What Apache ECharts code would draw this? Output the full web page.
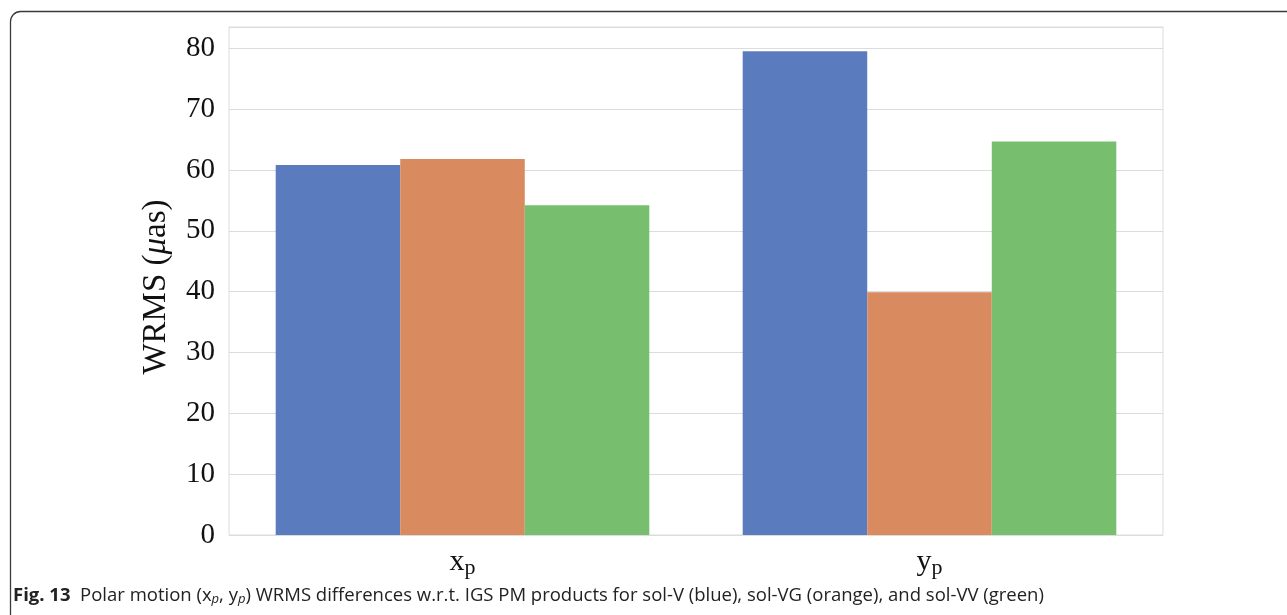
<!DOCTYPE html>
<html><head><meta charset="utf-8">
<script src="https://cdn.jsdelivr.net/npm/echarts@6/dist/echarts.min.js"></script>
<style>html,body{margin:0;padding:0;background:#fff}#c{width:1287px;height:615px}</style>
</head><body><div id="c"></div>
<script>
const categories = ['x', 'y'];
const seriesNames = ['sol-V', 'sol-VG', 'sol-VV'];
const solV = [60.8, 79.5];
const solVG = [61.8, 39.9];
const solVV = [54.2, 64.7];
const yTicks = [0, 10, 20, 30, 40, 50, 60, 70, 80];
const colors = ['#5b7bbf', '#d98a5f', '#77bf6f'];

const chart = echarts.init(document.getElementById('c'));
const serif = '"Liberation Serif", "DejaVu Serif", serif';
const sans = '"Open Sans", "Noto Sans", sans-serif';
const mkSeries = (name, data, i) => ({
  name, type: 'bar', data, barGap: '0%', barCategoryGap: '20%',
  itemStyle: { color: colors[i] }, silent: true
});
chart.setOption({
  animation: false,
  grid: { left: 229, right: 124, top: 27, bottom: 80, show: true, borderColor: '#dcdcdc', borderWidth: 1 },
  xAxis: {
    type: 'category', data: categories,
    axisLine: { show: false }, axisTick: { show: false }, splitLine: { show: false },
    axisLabel: {
      margin: 10,
      formatter: v => '{m|' + v + '}{s|p}',
      rich: {
        m: { fontFamily: serif, fontSize: 30, color: '#111' },
        s: { fontFamily: serif, fontSize: 22, color: '#111', verticalAlign: 'bottom', padding: [12, 0, 0, 0] }
      }
    }
  },
  yAxis: {
    type: 'value', min: 0, max: 83.5, interval: 10,
    axisLine: { show: false }, axisTick: { show: false },
    splitLine: { lineStyle: { color: '#dcdcdc', width: 1 } },
    axisLabel: {
      margin: 14, fontFamily: serif, fontSize: 29, color: '#111',
      formatter: v => yTicks.includes(v) ? String(v) : ''
    },
    name: '{a|WRMS (}{b|μ}{a|as)}', nameLocation: 'middle', nameGap: 56, nameRotate: 90,
    nameTextStyle: {
      padding: [0, 12, 0, 0],
      rich: {
        a: { fontFamily: serif, fontSize: 33, color: '#111' },
        b: { fontFamily: serif, fontSize: 33, color: '#111', fontStyle: 'italic' }
      }
    }
  },
  series: [mkSeries(seriesNames[0], solV, 0), mkSeries(seriesNames[1], solVG, 1), mkSeries(seriesNames[2], solVV, 2)],
  graphic: [
    { type: 'rect', shape: { x: 10.5, y: 11.5, width: 1400, height: 700, r: 10 }, style: { fill: 'none', stroke: '#3a3a3a', lineWidth: 1.3 }, silent: true },
    { type: 'text', left: 13, top: 586, silent: true,
      style: {
        text: '{b|Fig. 13}{n|  Polar motion (x}{i|p}{n|, y}{i|p}{n|) WRMS differences w.r.t. IGS PM products for sol-V (blue), sol-VG (orange), and sol-VV (green)}',
        rich: {
          b: { fontFamily: sans, fontWeight: 'bold', fontSize: 18.5, fill: '#222' },
          n: { fontFamily: sans, fontSize: 18.5, fill: '#222' },
          i: { fontFamily: sans, fontSize: 13, fontStyle: 'italic', fill: '#222', verticalAlign: 'bottom', padding: [8, 0, 0, 0] }
        }
      }
    }
  ]
});
</script></body></html>
